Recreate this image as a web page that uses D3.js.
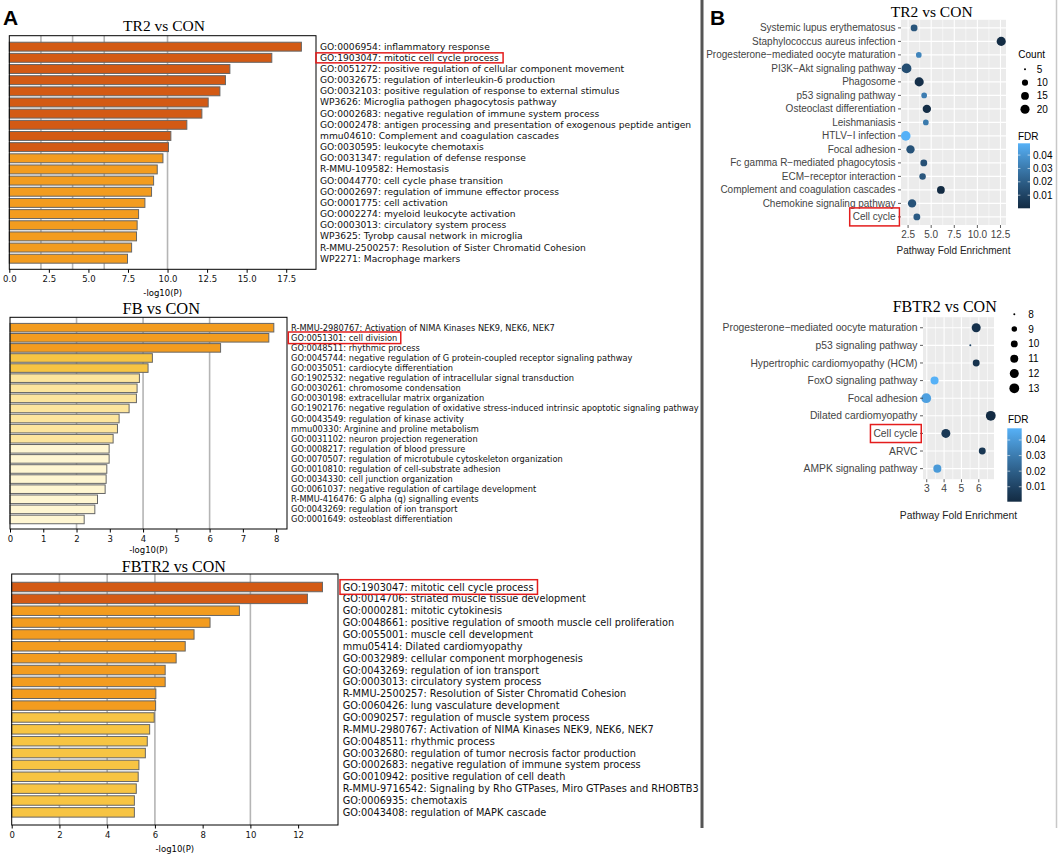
<!DOCTYPE html>
<html>
<head lang="en">
<meta charset="UTF-8">
<title>Enrichment: TR2, FB and FBTR2 vs CON</title>
<script src="https://d3js.org/d3.v7.min.js"></script>
<style>
    body { margin: 0; background: #fff; }
</style>
</head>
<body>
<div id="chartContainer"></div>
<script type="text/javascript">

    // ---- panel A: Metascape bar charts, -log10(P) ----
    var tr2Terms = [
        "GO:0006954: inflammatory response",
        "GO:1903047: mitotic cell cycle process",
        "GO:0051272: positive regulation of cellular component movement",
        "GO:0032675: regulation of interleukin-6 production",
        "GO:0032103: positive regulation of response to external stimulus",
        "WP3626: Microglia pathogen phagocytosis pathway",
        "GO:0002683: negative regulation of immune system process",
        "GO:0002478: antigen processing and presentation of exogenous peptide antigen",
        "mmu04610: Complement and coagulation cascades",
        "GO:0030595: leukocyte chemotaxis",
        "GO:0031347: regulation of defense response",
        "R-MMU-109582: Hemostasis",
        "GO:0044770: cell cycle phase transition",
        "GO:0002697: regulation of immune effector process",
        "GO:0001775: cell activation",
        "GO:0002274: myeloid leukocyte activation",
        "GO:0003013: circulatory system process",
        "WP3625: Tyrobp causal network in microglia",
        "R-MMU-2500257: Resolution of Sister Chromatid Cohesion",
        "WP2271: Macrophage markers"
    ];
    var tr2LogP = [18.46, 16.59, 13.94, 13.66, 13.31, 12.57, 12.17, 11.22, 10.21, 10.06,
                   9.71, 9.35, 9.12, 8.99, 8.57, 8.17, 8.08, 8.04, 7.73, 7.47];
    var tr2Ticks = [0, 2.5, 5, 7.5, 10, 12.5, 15, 17.5];

    var fbTerms = [
        "R-MMU-2980767: Activation of NIMA Kinases NEK9, NEK6, NEK7",
        "GO:0051301: cell division",
        "GO:0048511: rhythmic process",
        "GO:0045744: negative regulation of G protein-coupled receptor signaling pathway",
        "GO:0035051: cardiocyte differentiation",
        "GO:1902532: negative regulation of intracellular signal transduction",
        "GO:0030261: chromosome condensation",
        "GO:0030198: extracellular matrix organization",
        "GO:1902176: negative regulation of oxidative stress-induced intrinsic apoptotic signaling pathway",
        "GO:0043549: regulation of kinase activity",
        "mmu00330: Arginine and proline metabolism",
        "GO:0031102: neuron projection regeneration",
        "GO:0008217: regulation of blood pressure",
        "GO:0070507: regulation of microtubule cytoskeleton organization",
        "GO:0010810: regulation of cell-substrate adhesion",
        "GO:0034330: cell junction organization",
        "GO:0061037: negative regulation of cartilage development",
        "R-MMU-416476: G alpha (q) signalling events",
        "GO:0043269: regulation of ion transport",
        "GO:0001649: osteoblast differentiation"
    ];
    var fbLogP = [7.93, 7.78, 6.33, 4.28, 4.15, 3.89, 3.82, 3.80, 3.58, 3.28,
                  3.23, 3.10, 2.98, 2.98, 2.91, 2.89, 2.86, 2.63, 2.55, 2.23];
    var fbTicks = [0, 1, 2, 3, 4, 5, 6, 7, 8];

    var fbtr2Terms = [
        "GO:1903047: mitotic cell cycle process",
        "GO:0014706: striated muscle tissue development",
        "GO:0000281: mitotic cytokinesis",
        "GO:0048661: positive regulation of smooth muscle cell proliferation",
        "GO:0055001: muscle cell development",
        "mmu05414: Dilated cardiomyopathy",
        "GO:0032989: cellular component morphogenesis",
        "GO:0043269: regulation of ion transport",
        "GO:0003013: circulatory system process",
        "R-MMU-2500257: Resolution of Sister Chromatid Cohesion",
        "GO:0060426: lung vasculature development",
        "GO:0090257: regulation of muscle system process",
        "R-MMU-2980767: Activation of NIMA Kinases NEK9, NEK6, NEK7",
        "GO:0048511: rhythmic process",
        "GO:0032680: regulation of tumor necrosis factor production",
        "GO:0002683: negative regulation of immune system process",
        "GO:0010942: positive regulation of cell death",
        "R-MMU-9716542: Signaling by Rho GTPases, Miro GTPases and RHOBTB3",
        "GO:0006935: chemotaxis",
        "GO:0043408: regulation of MAPK cascade"
    ];
    var fbtr2LogP = [13.02, 12.39, 9.54, 8.31, 7.64, 7.27, 6.89, 6.43, 6.43, 6.04,
                     6.03, 5.97, 5.78, 5.68, 5.60, 5.33, 5.30, 5.22, 5.14, 5.14];
    var fbtr2Ticks = [0, 2, 4, 6, 8, 10, 12];

    // Metascape reference lines (p = 1e-2, 1e-4, 1e-6, 1e-10, 1e-20) and colour bins
    var gridCuts = [2, 4, 6, 10, 20];
    var binCuts = [10, 6, 4, 3];
    var binFills = ["#d35a14", "#f39c1f", "#f7c443", "#fde59d", "#fff6d2"];

    // ---- panel B: KEGG dot plots ----
    var keggTr2Pathways = [
        "Systemic lupus erythematosus",
        "Staphylococcus aureus infection",
        "Progesterone\u2212mediated oocyte maturation",
        "PI3K\u2212Akt signaling pathway",
        "Phagosome",
        "p53 signaling pathway",
        "Osteoclast differentiation",
        "Leishmaniasis",
        "HTLV\u2212I infection",
        "Focal adhesion",
        "Fc gamma R\u2212mediated phagocytosis",
        "ECM\u2212receptor interaction",
        "Complement and coagulation cascades",
        "Chemokine signaling pathway",
        "Cell cycle"
    ];
    var keggTr2Fold = [3.15, 12.58, 3.66, 2.33, 3.70, 4.24, 4.53, 4.42, 2.25, 2.76, 4.20, 4.07, 6.05, 2.93, 3.45];
    var keggTr2Count = [12, 20, 9, 23, 20, 9, 17, 9, 22, 17, 12, 11, 15, 17, 12];
    var keggTr2FDR = [0.017, 0.0005, 0.034, 0.014, 0.002, 0.031, 0.001, 0.030, 0.0488, 0.016,
                      0.015, 0.017, 0.0002, 0.016, 0.019];
    var keggTr2Ticks = [2.5, 5, 7.5, 10, 12.5];
    var keggTr2CountBreaks = [5, 10, 15, 20];

    var keggFbtr2Pathways = [
        "Progesterone\u2212mediated oocyte maturation",
        "p53 signaling pathway",
        "Hypertrophic cardiomyopathy (HCM)",
        "FoxO signaling pathway",
        "Focal adhesion",
        "Dilated cardiomyopathy",
        "Cell cycle",
        "ARVC",
        "AMPK signaling pathway"
    ];
    var keggFbtr2Fold = [5.85, 5.51, 5.85, 3.45, 2.97, 6.69, 4.10, 6.20, 3.61];
    var keggFbtr2Count = [12, 8, 10, 11, 13, 13, 12, 10, 11];
    var keggFbtr2FDR = [0.003, 0.010, 0.004, 0.0475, 0.042, 0.0004, 0.006, 0.005, 0.040];
    var keggFbtr2Ticks = [3, 4, 5, 6];
    var keggFbtr2CountBreaks = [8, 9, 10, 11, 12, 13];

    var fdrBreaks = [0.01, 0.02, 0.03, 0.04];

    var SANS = "'Liberation Sans', Arial, sans-serif";
    var DEJAVU = "'DejaVu Sans', sans-serif";
    var SERIF = "'Liberation Serif', 'Times New Roman', serif";

    var svg = d3.select("#chartContainer").append("svg")
        .attr("width", 1059)
        .attr("height", 860)
        .style("font-family", SANS);

    var defs = svg.append("defs");
    defs.append("clipPath").attr("id", "clipA")
        .append("rect").attr("x", 0).attr("y", 0).attr("width", 700).attr("height", 860);

    function binColor(v) {
        for (var i = 0; i < binCuts.length; i++) {
            if (v >= binCuts[i]) return binFills[i];
        }
        return binFills[binFills.length - 1];
    }

    function drawBars(cfg) {
        var g = svg.append("g").attr("clip-path", "url(#clipA)");
        var f = cfg.frame;
        var x = d3.scaleLinear()
            .domain([0, d3.max(cfg.values) * 1.05])
            .range([f.left, f.right]);
        var y = d3.scaleBand()
            .domain(d3.range(cfg.values.length))
            .range(cfg.band)
            .paddingInner(cfg.gap)
            .paddingOuter(cfg.gap / 2);

        // grey reference lines behind the bars
        g.selectAll("line.grid")
            .data(gridCuts.filter(function (v) { return v < x.domain()[1]; }))
            .enter().append("line")
            .attr("x1", x).attr("x2", x)
            .attr("y1", f.top).attr("y2", f.bottom)
            .attr("stroke", "#b5b5b5")
            .attr("stroke-width", 1.6);

        g.selectAll("rect.bar")
            .data(cfg.values)
            .enter().append("rect")
            .attr("x", x(0))
            .attr("y", function (d, i) { return y(i); })
            .attr("width", function (d) { return x(d) - x(0); })
            .attr("height", y.bandwidth())
            .attr("fill", binColor)
            .attr("stroke", "#666")
            .attr("stroke-width", 1);

        g.append("rect")
            .attr("x", f.left).attr("y", f.top)
            .attr("width", f.right - f.left).attr("height", f.bottom - f.top)
            .attr("fill", "none")
            .attr("stroke", "#000")
            .attr("stroke-width", 1);

        var axis = d3.axisBottom(x)
            .tickValues(cfg.ticks)
            .tickFormat(d3.format(cfg.fmt))
            .tickSize(3.5)
            .tickPadding(3.5);
        var ax = g.append("g")
            .attr("transform", "translate(0," + f.bottom + ")")
            .call(axis);
        ax.select(".domain").remove();
        ax.selectAll("line").attr("stroke", "#000");
        ax.selectAll("text")
            .style("font-family", DEJAVU)
            .style("font-size", "8.5px")
            .attr("fill", "#111");

        g.append("text")
            .attr("x", (f.left + f.right) / 2)
            .attr("y", cfg.xlabY)
            .attr("text-anchor", "middle")
            .style("font-family", DEJAVU)
            .style("font-size", "8.5px")
            .text("-log10(P)");

        g.append("text")
            .attr("x", cfg.titleX)
            .attr("y", cfg.titleY)
            .attr("text-anchor", "middle")
            .style("font-family", SERIF)
            .style("font-size", cfg.titleSize + "px")
            .text(cfg.title);

        var labels = g.selectAll("text.term")
            .data(cfg.terms)
            .enter().append("text")
            .attr("class", "term")
            .attr("x", cfg.labelX)
            .attr("y", function (d, i) { return y(i) + y.bandwidth() / 2; })
            .attr("dominant-baseline", "central")
            .style("font-family", DEJAVU)
            .style("font-size", "10px")
            .attr("fill", "#111")
            .text(function (d) { return d; });

        // scale the term font so one reference label has the width it has in the figure
        var ref = labels.nodes()[cfg.fit[0]].getComputedTextLength();
        labels.style("font-size", (10 * cfg.fit[1] / ref) + "px");

        labels.filter(function (d) { return d.indexOf(cfg.highlight) === 0; })
            .each(function () {
                var b = this.getBBox();
                g.append("rect")
                    .attr("x", b.x - cfg.boxPad[0])
                    .attr("y", b.y - cfg.boxPad[1])
                    .attr("width", b.width + cfg.boxPad[0] + cfg.boxPad[2])
                    .attr("height", b.height + 2 * cfg.boxPad[1])
                    .attr("fill", "none")
                    .attr("stroke", "#e41d1d")
                    .attr("stroke-width", 1.5);
            });
    }

    function drawDots(cfg) {
        var g = svg.append("g");
        var p = cfg.panel;
        var ext = d3.extent(cfg.fold);
        var pad = (ext[1] - ext[0]) * 0.05;
        var x = d3.scaleLinear().domain([ext[0] - pad, ext[1] + pad]).range([p.left, p.right]);
        var y = d3.scalePoint().domain(cfg.pathways).range([p.top, p.bottom]).padding(0.6);

        var cMin = cfg.sizeDomain[0], cMax = cfg.sizeDomain[1];
        var area = d3.scaleSqrt().domain([0, cMax - cMin]).range([0, cfg.sizeRange[1] - cfg.sizeRange[0]]);
        function radius(c) { return cfg.sizeRange[0] + area(Math.max(0, c - cMin)); }

        var color = d3.scaleLinear()
            .domain(d3.extent(cfg.fdr))
            .range(["#132B43", "#56B1F7"])
            .interpolate(d3.interpolateLab);

        g.append("rect")
            .attr("x", p.left).attr("y", p.top)
            .attr("width", p.right - p.left).attr("height", p.bottom - p.top)
            .attr("fill", "#ebebeb");

        var step = cfg.ticks[1] - cfg.ticks[0];
        var minor = [cfg.ticks[0] - step / 2].concat(cfg.ticks.map(function (t) { return t + step / 2; }))
            .filter(function (v) { return v > x.domain()[0] && v < x.domain()[1]; });

        g.selectAll("line.minor").data(minor).enter().append("line")
            .attr("x1", x).attr("x2", x).attr("y1", p.top).attr("y2", p.bottom)
            .attr("stroke", "#fff").attr("stroke-width", 0.55);
        g.selectAll("line.major").data(cfg.ticks).enter().append("line")
            .attr("x1", x).attr("x2", x).attr("y1", p.top).attr("y2", p.bottom)
            .attr("stroke", "#fff").attr("stroke-width", 1.1);
        g.selectAll("line.hmajor").data(cfg.pathways).enter().append("line")
            .attr("x1", p.left).attr("x2", p.right).attr("y1", y).attr("y2", y)
            .attr("stroke", "#fff").attr("stroke-width", 1.1);

        g.selectAll("circle.dot")
            .data(cfg.fold)
            .enter().append("circle")
            .attr("cx", function (d) { return x(d); })
            .attr("cy", function (d, i) { return y(cfg.pathways[i]); })
            .attr("r", function (d, i) { return radius(cfg.count[i]); })
            .attr("fill", function (d, i) { return color(cfg.fdr[i]); });

        // y axis: ticks and pathway names
        g.selectAll("line.ytick").data(cfg.pathways).enter().append("line")
            .attr("x1", p.left - 3).attr("x2", p.left).attr("y1", y).attr("y2", y)
            .attr("stroke", "#333").attr("stroke-width", 0.8);
        var names = g.selectAll("text.pathway").data(cfg.pathways).enter().append("text")
            .attr("x", p.left - 5.5)
            .attr("y", y)
            .attr("dy", "0.35em")
            .attr("text-anchor", "end")
            .style("font-size", cfg.fontSize + "px")
            .attr("fill", "#444")
            .text(function (d) { return d; });

        // x axis
        g.selectAll("line.xtick").data(cfg.ticks).enter().append("line")
            .attr("x1", x).attr("x2", x).attr("y1", p.bottom).attr("y2", p.bottom + 3)
            .attr("stroke", "#333").attr("stroke-width", 0.8);
        g.selectAll("text.xtick").data(cfg.ticks).enter().append("text")
            .attr("x", x)
            .attr("y", p.bottom + 13)
            .attr("text-anchor", "middle")
            .style("font-size", cfg.fontSize + "px")
            .attr("fill", "#444")
            .text(d3.format(cfg.fmt));

        g.append("text")
            .attr("x", (p.left + p.right) / 2)
            .attr("y", cfg.xlabY)
            .attr("text-anchor", "middle")
            .style("font-size", cfg.fontSize + "px")
            .attr("fill", "#222")
            .text("Pathway Fold Enrichment");

        g.append("text")
            .attr("x", cfg.titleX)
            .attr("y", cfg.titleY)
            .attr("text-anchor", "middle")
            .style("font-family", SERIF)
            .style("font-size", cfg.titleSize + "px")
            .text(cfg.title);

        names.filter(function (d) { return d === cfg.highlight; })
            .each(function () {
                var b = this.getBBox();
                g.append("rect")
                    .attr("x", b.x - 3)
                    .attr("y", b.y - 3.5)
                    .attr("width", b.width + 6.5)
                    .attr("height", b.height + 7)
                    .attr("fill", "none")
                    .attr("stroke", "#e41d1d")
                    .attr("stroke-width", 1.5);
            });

        // size legend
        var L = cfg.sizeLegend;
        if (L.title) {
            g.append("text").attr("x", L.titleX).attr("y", L.titleY).attr("dy", "0.35em")
                .style("font-size", "10px").text(L.title);
        }
        g.selectAll("circle.key").data(cfg.countBreaks).enter().append("circle")
            .attr("cx", L.x)
            .attr("cy", function (d, i) { return L.y0 + i * L.step; })
            .attr("r", radius)
            .attr("fill", "#000");
        g.selectAll("text.key").data(cfg.countBreaks).enter().append("text")
            .attr("x", L.labelX)
            .attr("y", function (d, i) { return L.y0 + i * L.step; })
            .attr("dy", "0.35em")
            .style("font-size", "10px")
            .text(function (d) { return d; });

        // FDR colour bar
        var C = cfg.colorLegend;
        var gid = "grad" + cfg.id;
        var grad = defs.append("linearGradient").attr("id", gid)
            .attr("x1", 0).attr("x2", 0).attr("y1", 1).attr("y2", 0);
        d3.range(0, 1.0001, 0.1).forEach(function (t) {
            var v = color.domain()[0] + t * (color.domain()[1] - color.domain()[0]);
            grad.append("stop").attr("offset", t).attr("stop-color", color(v));
        });
        var cb = d3.scaleLinear().domain(color.domain()).range([C.bottom, C.top]);
        g.append("text").attr("x", C.titleX).attr("y", C.titleY).attr("dy", "0.35em")
            .style("font-size", "10px").text("FDR");
        g.append("rect")
            .attr("x", C.left).attr("y", C.top)
            .attr("width", C.right - C.left).attr("height", C.bottom - C.top)
            .attr("fill", "url(#" + gid + ")");
        var w5 = (C.right - C.left) / 5;
        fdrBreaks.forEach(function (v) {
            g.append("line").attr("x1", C.left).attr("x2", C.left + w5)
                .attr("y1", cb(v)).attr("y2", cb(v)).attr("stroke", "#fff").attr("stroke-width", 0.6);
            g.append("line").attr("x1", C.right - w5).attr("x2", C.right)
                .attr("y1", cb(v)).attr("y2", cb(v)).attr("stroke", "#fff").attr("stroke-width", 0.6);
        });
        g.selectAll("text.fdr").data(fdrBreaks).enter().append("text")
            .attr("x", C.labelX)
            .attr("y", cb)
            .attr("dy", "0.35em")
            .style("font-size", "10px")
            .text(d3.format(".2f"));
    }

    drawBars({
        terms: tr2Terms, values: tr2LogP, ticks: tr2Ticks, fmt: ".1f",
        frame: { left: 9.3, right: 316, top: 35.7, bottom: 269.3 },
        band: [41.1, 264.3], gap: 0.2,
        title: "TR2 vs CON", titleX: 164, titleY: 30.5, titleSize: 15.5,
        xlabY: 296, labelX: 320, fit: [0, 170],
        highlight: "GO:1903047", boxPad: [4, 0, 4]
    });

    drawBars({
        terms: fbTerms, values: fbLogP, ticks: fbTicks, fmt: "d",
        frame: { left: 10, right: 287, top: 317.3, bottom: 529 },
        band: [322.65, 524.5], gap: 0.15,
        title: "FB vs CON", titleX: 161.3, titleY: 314, titleSize: 16.4,
        xlabY: 553, labelX: 291, fit: [3, 342],
        highlight: "GO:0051301", boxPad: [2.7, 0.8, 3.5]
    });

    drawBars({
        terms: fbtr2Terms, values: fbtr2LogP, ticks: fbtr2Ticks, fmt: "d",
        frame: { left: 11.7, right: 338, top: 574, bottom: 825 },
        band: [581.07, 818.3], gap: 0.2,
        title: "FBTR2 vs CON", titleX: 173.8, titleY: 571.7, titleSize: 16,
        xlabY: 852, labelX: 342.7, fit: [3, 332],
        highlight: "GO:1903047", boxPad: [2.7, 1.8, 4]
    });

    drawDots({
        id: "tr2",
        pathways: keggTr2Pathways, fold: keggTr2Fold, count: keggTr2Count, fdr: keggTr2FDR,
        ticks: keggTr2Ticks, fmt: ".1f", countBreaks: keggTr2CountBreaks,
        panel: { left: 901, right: 1006, top: 19.8, bottom: 225 },
        sizeDomain: [5, 23], sizeRange: [1, 4.9], fontSize: 10,
        title: "TR2 vs CON", titleX: 931.7, titleY: 16.7, titleSize: 15.5,
        xlabY: 253.5, highlight: "Cell cycle",
        sizeLegend: { title: "Count", titleX: 1018.3, titleY: 54.3, x: 1025, y0: 69.3, step: 13.33, labelX: 1036.7 },
        colorLegend: { titleX: 1018, titleY: 136, left: 1018, right: 1030, top: 143.3, bottom: 208.3, labelX: 1033 }
    });

    drawDots({
        id: "fbtr2",
        pathways: keggFbtr2Pathways, fold: keggFbtr2Fold, count: keggFbtr2Count, fdr: keggFbtr2FDR,
        ticks: keggFbtr2Ticks, fmt: "d", countBreaks: keggFbtr2CountBreaks,
        panel: { left: 923, right: 994, top: 317.2, bottom: 479.2 },
        sizeDomain: [8, 13], sizeRange: [1, 4.9], fontSize: 10.3,
        title: "FBTR2 vs CON", titleX: 944.7, titleY: 311.7, titleSize: 16,
        xlabY: 519, highlight: "Cell cycle",
        sizeLegend: { title: null, x: 1014.3, y0: 314.3, step: 14.8, labelX: 1028.3 },
        colorLegend: { titleX: 1008, titleY: 419.3, left: 1007.3, right: 1021.7, top: 428.3, bottom: 501.7, labelX: 1026 }
    });

    // panel divider, right border and panel letters
    svg.append("line")
        .attr("x1", 702).attr("x2", 702).attr("y1", 0).attr("y2", 828)
        .attr("stroke", "#555").attr("stroke-width", 3);
    svg.append("line")
        .attr("x1", 1056.5).attr("x2", 1056.5).attr("y1", 0).attr("y2", 828)
        .attr("stroke", "#c8c8c8").attr("stroke-width", 1.5);

    svg.selectAll("text.letter")
        .data([["A", 3], ["B", 710]])
        .enter().append("text")
        .attr("x", function (d) { return d[1]; })
        .attr("y", 25)
        .style("font-size", "21px")
        .style("font-weight", "bold")
        .text(function (d) { return d[0]; });

</script>
</body>
</html>
